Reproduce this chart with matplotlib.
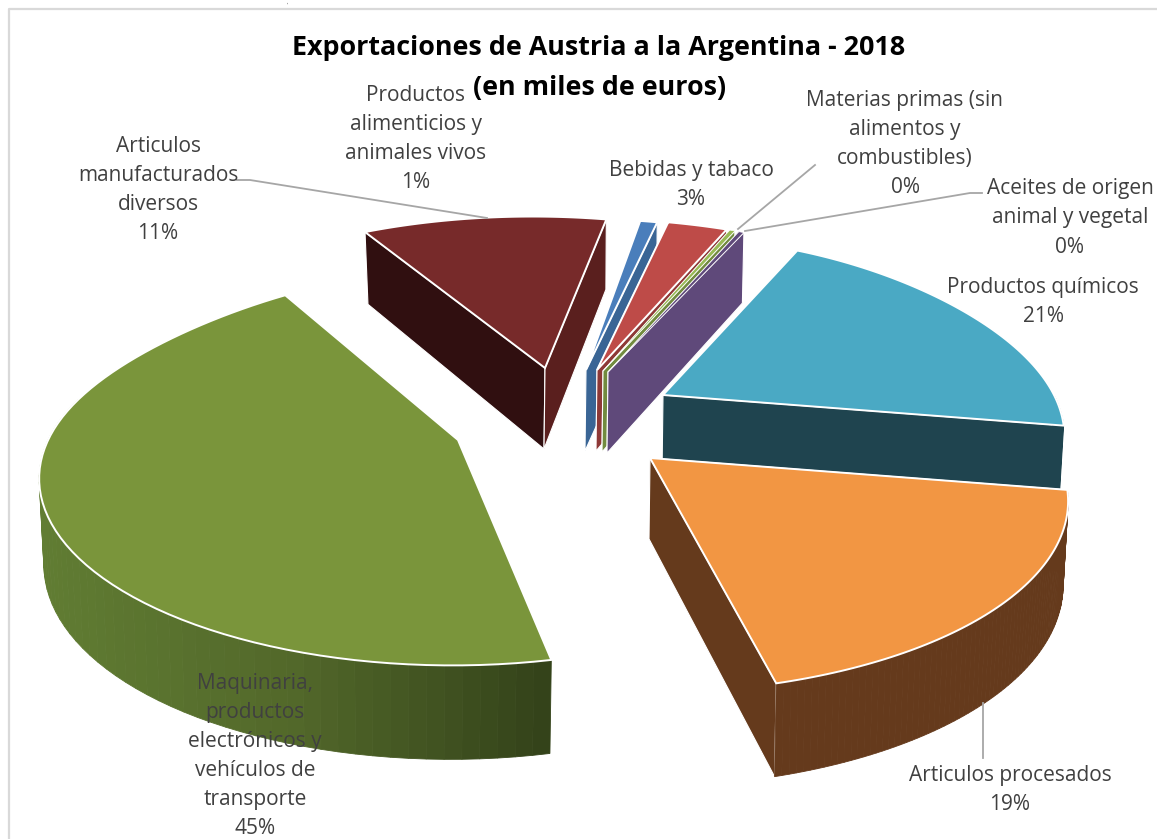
import numpy as np
import matplotlib.pyplot as plt
from matplotlib.patches import Polygon
from matplotlib.colors import to_rgb

# slices clockwise, beginning at the top of the pie
categories = ['Productos\nalimenticios y\nanimales vivos', 'Bebidas y tabaco',
              'Materias primas (sin\nalimentos y\ncombustibles)',
              'Aceites de origen\nanimal y vegetal', 'Productos químicos',
              'Articulos procesados',
              'Maquinaria,\nproductos\nelectrónicos y\nvehículos de\ntransporte',
              'Articulos\nmanufacturados\ndiversos']
values = [0.8, 2.8, 0.25, 0.25, 20.9, 18.6, 45.4, 11.0]

top_colors = ['#4a7ebb', '#be4b48', '#98b954', '#5f497a', '#4aa9c4', '#f29643', '#7a953b', '#772a2a']
wall_colors = ['#3a6595', '#8e3937', '#728b3f', '#5f497a', '#1f444f', '#653a1c', '#4f6428', '#5a1f1e']
apex_x = [586, 597, 603, 608, 663, 650, 458, 545]
apex_y = [370, 370, 371, 372, 395, 458, 440, 368]
radius_scale = [1, 1, 1, 1, 0.96, 1, 0.96, 1]
far_scale = [1, 1, 1, 1, 1.09, 1, 1.18, 1]
start_shift = [0, 0, -0.5, -0.7, 0, 0, 3.3, 0]
end_shift = [0, 0, -0.5, -0.7, 0, 0, 0, 1.2]
label_x = [416, 691, 905, 1070, 1043, 1010, 255, 158]
label_y = [139, 185, 144, 218, 302, 790, 756, 190]

# view of the tilted pie
start_angle = 3.6
R, Ry, k, h, g = 415, 183, 0.217, 40, 20


def project(theta, scale, far):
    u = np.sin(np.radians(theta))
    v = np.cos(np.radians(theta))
    s = scale / (1 + k * v)
    ry = Ry * (1 + (far - 1) * np.clip(v, 0, 1) ** 2)
    return (R * u + h * v) * s, (-ry * v + g * u) * s, u, v


def drop(x, y, u, v):
    # bottom edge of the pie wall under a point of the rim
    return x - 5 * u, y + 82 - 12 * v


fig = plt.figure(figsize=(11.57, 8.39), dpi=100)
ax = fig.add_axes([0, 0, 1, 1])
ax.set_xlim(0, 1157)
ax.set_ylim(839, 0)
ax.axis('off')
plt.rcParams['font.family'] = ['Open Sans', 'DejaVu Sans']

ax.plot([8.5, 8.5, 1157], [839, 9, 9], color='#d9d9d9', lw=1.6)
ax.text(287, 0, ',', fontsize=4, color='#404040', ha='center', va='top')

edges = start_angle + np.cumsum([0] + values) * 360 / sum(values)
gradient_x = [40, 300, 550]
gradient_c = np.array([to_rgb('#617d33'), to_rgb('#52682a'), to_rgb('#34431a')])

# far slices first, the maroon one sits behind all of them
for i in [7, 0, 1, 2, 3, 4, 5, 6]:
    ax0, ay0 = apex_x[i], apex_y[i]
    theta = np.linspace(edges[i] + start_shift[i], edges[i + 1] + end_shift[i], 80)
    px, py, u, v = project(theta, radius_scale[i], far_scale[i])
    px = px + ax0
    py = py + ay0
    bx, by = drop(px, py, u, v)

    # the two cut faces
    start_wall = '#300f10' if i == 7 else wall_colors[i]
    if i != 6:
        ax.add_patch(Polygon([(ax0, ay0), (px[0], py[0]), (bx[0], by[0]), (ax0 - 1, ay0 + 81)],
                             facecolor=start_wall, edgecolor='white', lw=0.8, zorder=i + 2))
    ax.add_patch(Polygon([(ax0, ay0), (px[-1], py[-1]), (bx[-1], by[-1]), (ax0 - 1, ay0 + 81)],
                         facecolor=wall_colors[i], edgecolor='white', lw=0.8, zorder=i + 2))

    # wall along the rim, in short pieces so that the gradient can follow
    for j in range(len(theta) - 1):
        if v[j] > 0.1 and v[j + 1] > 0.1:
            continue
        c = wall_colors[i]
        if i == 6:
            c = [np.interp(px[j], gradient_x, gradient_c[:, n]) for n in range(3)]
        ax.add_patch(Polygon([(px[j], py[j]), (px[j + 1], py[j + 1]), (bx[j + 1], by[j + 1]), (bx[j], by[j])],
                             facecolor=c, edgecolor=c, lw=0.6, zorder=i + 2))

    # top of the slice
    edge_lw = 0.5 if values[i] < 0.5 else 1.4
    ax.add_patch(Polygon(np.column_stack([np.r_[ax0, px], np.r_[ay0, py]]),
                         facecolor=top_colors[i], edgecolor='white', lw=edge_lw, zorder=i + 2))

# leader lines
line_c = '#a6a6a6'
ax.plot([237, 250, 487], [180, 180, 218], color=line_c, lw=1.3, zorder=20)
ax.plot([738, 815], [229, 165], color=line_c, lw=1.3, zorder=20)
ax.plot([745, 970, 982], [231, 193, 193], color=line_c, lw=1.3, zorder=20)
ax.plot([983, 983], [703, 758], color=line_c, lw=1.3, zorder=20)

for name, val, x, y in zip(categories, values, label_x, label_y):
    ax.text(x, y, f'{name}\n{val:.0f}%', ha='center', va='center', multialignment='center',
            fontsize=15, color='#404040', linespacing=1.51, zorder=30)

ax.text(599, 48, 'Exportaciones de Austria a la Argentina - 2018', ha='center', va='center',
        fontsize=19.4, fontweight='bold', color='black', zorder=30)
ax.text(600, 88, '(en miles de euros)', ha='center', va='center',
        fontsize=19.4, fontweight='bold', color='black', zorder=30)

fig.savefig('out.png', dpi=100)
